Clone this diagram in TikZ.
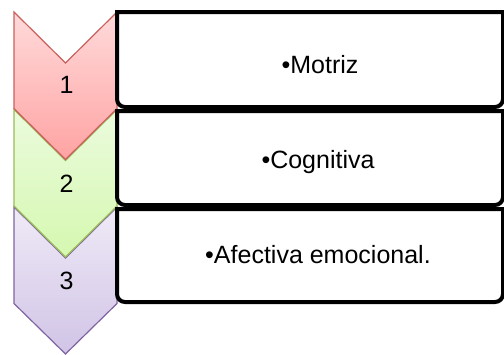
\documentclass[tikz,border=0pt]{standalone}
\usepackage{fontspec}
\setmainfont{Liberation Sans}
\definecolor{redline}{HTML}{C9605D}
\definecolor{redtop}{HTML}{FFDADA}
\definecolor{redbot}{HTML}{FFA3A3}
\definecolor{greenline}{HTML}{9BBB59}
\definecolor{greentop}{HTML}{EBFBDD}
\definecolor{greenbot}{HTML}{D5F8B0}
\definecolor{violetline}{HTML}{8064A2}
\definecolor{violettop}{HTML}{EFEAF7}
\definecolor{violetbot}{HTML}{D1C4E6}
\tikzset{
  chev/.style={line width=1.2pt},
  box/.style={draw=black,line width=4pt},
  lbl/.style={anchor=base,font=\fontsize{25}{30}\selectfont}
}
\begin{document}
\begin{tikzpicture}[x=1pt,y=-1pt]
      \useasboundingbox (0,0) rectangle (504,354);
      % chevrons, last one first
      \draw[chev,draw=violetline,top color=violettop,bottom color=violetbot]
        (14,207) -- (65.5,258) -- (117,207) -- (117,303.5) -- (65.5,354) -- (14,303.5) -- cycle;
      \draw[chev,draw=greenline,top color=greentop,bottom color=greenbot]
        (14,109.5) -- (65.5,160.5) -- (117,109.5) -- (117,206) -- (65.5,257) -- (14,206) -- cycle;
      \draw[chev,draw=redline,top color=redtop,bottom color=redbot]
        (14,12) -- (65.5,63) -- (117,12) -- (117,108.5) -- (65.5,159.5) -- (14,108.5) -- cycle;
      % boxes
      \begin{scope}[box]
        \draw (117,12) -- (503,12) [rounded corners=8pt] -- (503,107) -- (117,107) [sharp corners] -- cycle;
        \draw (117,111) -- (503,111) [rounded corners=8pt] -- (503,205) -- (117,205) [sharp corners] -- cycle;
        \draw (117,209) -- (503,209) [rounded corners=8pt] -- (503,302) -- (117,302) [sharp corners] -- cycle;
      \end{scope}
      \draw
        (66.5,93) node[lbl] (n1){1}
        (66.5,192) node[lbl] (n2){2}
        (66.5,289) node[lbl] (n3){3}
        (320,73) node[lbl] (t1){•Motriz}
        (318,168) node[lbl] (t2){•Cognitiva}
        (318,263) node[lbl] (t3){•Afectiva emocional.};
    \end{tikzpicture}
\end{document}
